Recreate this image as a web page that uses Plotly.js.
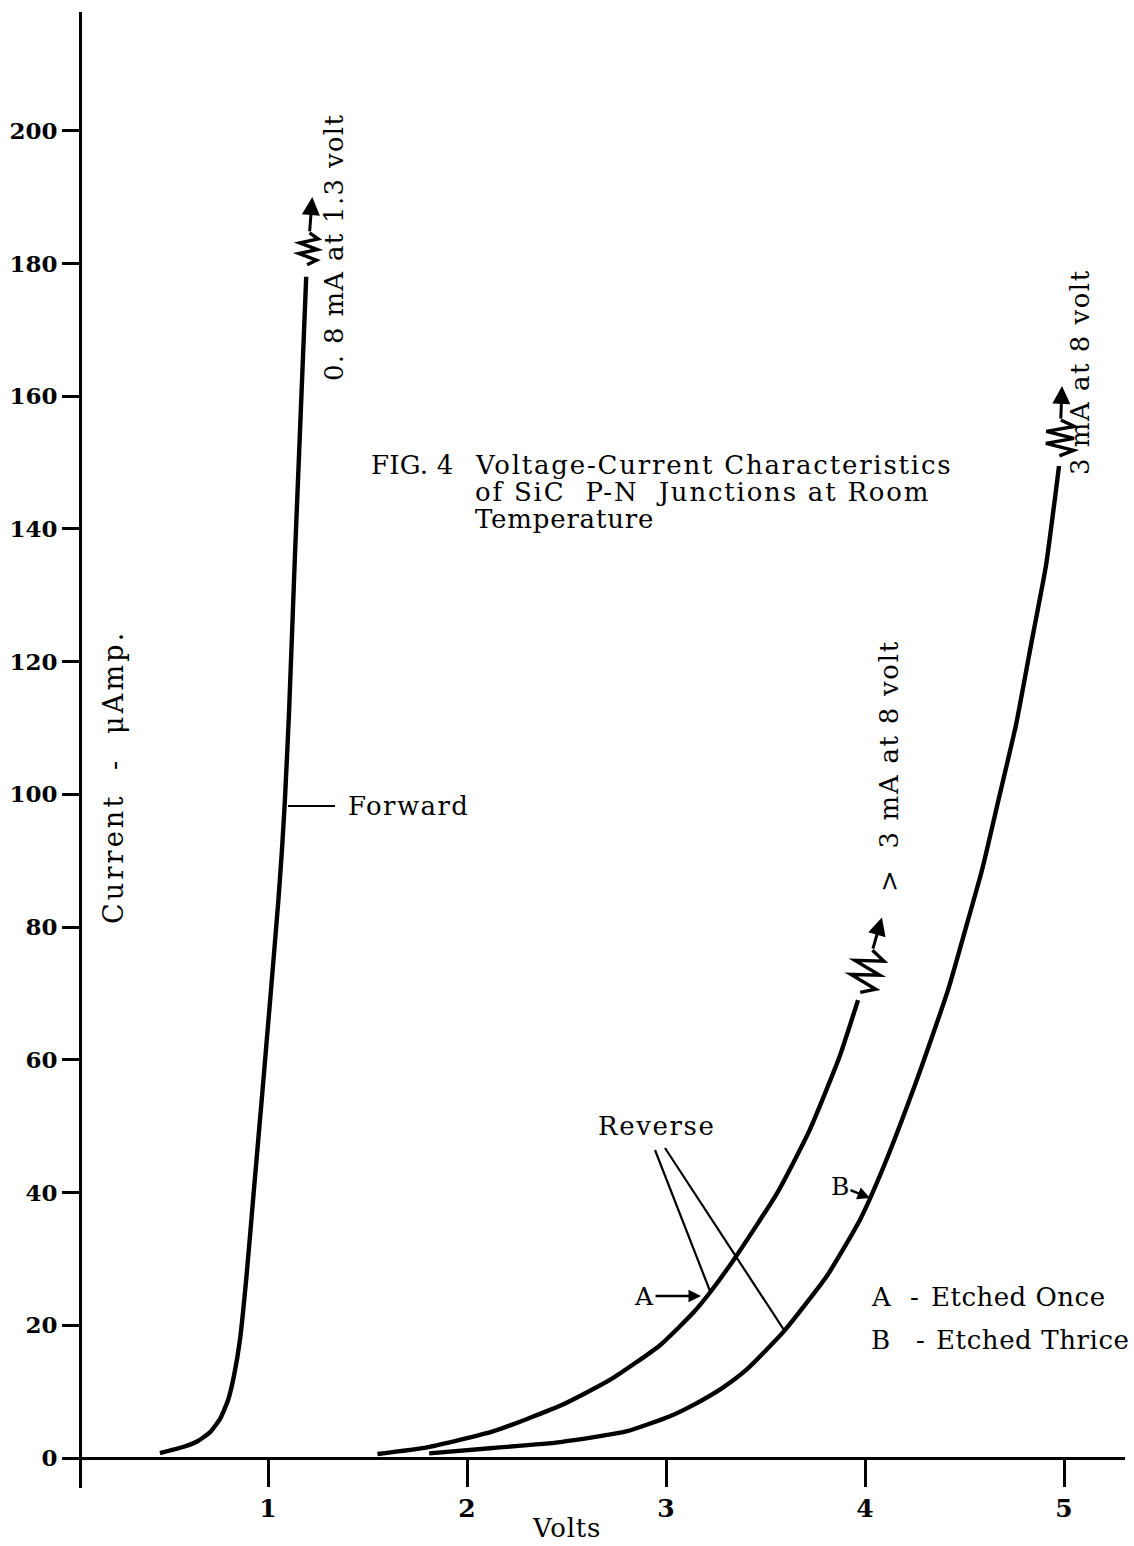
<!DOCTYPE html>
<html>
<head>
<meta charset="utf-8">
<script src="https://cdn.plot.ly/plotly-3.0.1.min.js"></script>
<style>html,body{margin:0;padding:0;background:#fff;}#chart{width:1134px;height:1546px;}</style>
</head>
<body>
<div id="chart"></div>
<script>
// ---- data (Volts, microamperes) ----
const volts_forward   = [0.457, 0.573, 0.648, 0.709, 0.759, 0.799, 0.829, 0.859, 0.892, 0.926, 0.969, 1.011, 1.052, 1.070, 1.085, 1.106, 1.135, 1.160, 1.192];
const current_forward = [0.75,  1.66,  2.56,  3.9,   5.9,   8.7,   12.4,  17.8,  27.4,  39.3,  54.2,  69.1,  84.0,  91.6,  99.2,  112.6, 135.7, 154.2, 178.0];

const volts_A   = [1.55, 1.80, 2.13, 2.47, 2.72, 2.97, 3.14, 3.22, 3.35, 3.56, 3.72, 3.87, 3.965];
const current_A = [0.6,  1.6,  4.0,  7.9,  11.8, 17.0, 22.0, 24.9, 30.3, 40.0, 49.3, 60.3, 69.0];

const volts_B   = [1.81, 2.13, 2.47, 2.80, 3.02, 3.15, 3.28, 3.40, 3.59, 3.81, 3.975, 4.095, 4.251, 4.417, 4.518, 4.588, 4.671, 4.759, 4.839, 4.910, 4.975];
const current_B = [0.7,  1.5,  2.4,  4.0,  6.3,  8.2,  10.5, 13.2, 19.0, 27.5, 35.9,  44.0,  56.2,  70.5,  81.1,  88.6,  99.2,  110.5, 123.3, 134.6, 149.5];

const xTickVals = [1, 2, 3, 4, 5];
const xTickText = ['1', '2', '3', '4', '5'];
const yTickVals = [0, 20, 40, 60, 80, 100, 120, 140, 160, 180, 200];
const yTickText = ['0', '20', '40', '60', '80', '100', '120', '140', '160', '180', '200'];

// ---- layout geometry ----
const W = 1134, H = 1546;
const M = {l: 62, r: 9, t: 12, b: 58};
const xRange = [-0.0352, 5.3065];
const yRange = [-4.52, 217.9];
const plotW = W - M.l - M.r, plotH = H - M.t - M.b;
const FONT = 'DejaVu Serif';

// pixel <-> data helpers
const X = px => xRange[0] + (px - M.l) / plotW * (xRange[1] - xRange[0]);
const Y = py => yRange[1] - (py - M.t) / plotH * (yRange[1] - yRange[0]);
const PX = x => M.l + (x - xRange[0]) / (xRange[1] - xRange[0]) * plotW;
const PY = y => M.t + (yRange[1] - y) / (yRange[1] - yRange[0]) * plotH;

const yAxisPos = (80 - M.l) / plotW;
const xAxisPos = (0 - yRange[0]) / (yRange[1] - yRange[0]);

function curve(xs, ys) {
  return {x: xs, y: ys, type: 'scatter', mode: 'lines',
          line: {color: '#000', width: 4.4, shape: 'spline', smoothing: 0.5},
          hoverinfo: 'skip', showlegend: false};
}

// zigzag "break" symbol + arrow continuing past the end of a curve
const shapes = [];
const annotations = [];
function breakArrow(xs, ys, dirX, dirY, gap, len, amp, total) {
  const ex = PX(xs[xs.length - 1]), ey = PY(ys[ys.length - 1]);
  const n = Math.hypot(dirX, dirY); const ux = dirX / n, uy = dirY / n;
  const vx = -uy, vy = ux;
  const pts = [];
  const steps = 6;
  for (let i = 0; i <= steps; i++) {
    const s = gap + len * i / steps;
    const o = (i === 0 || i === steps) ? 0 : (i % 2 ? amp : -amp);
    pts.push([ex + ux * s + vx * o, ey + uy * s + vy * o]);
  }
  const d = pts.map((p, i) => (i ? 'L ' : 'M ') + X(p[0]) + ',' + Y(p[1])).join(' ');
  shapes.push({type: 'path', xref: 'x', yref: 'y', path: d, line: {color: '#000', width: 3.4}});
  const tx = ex + ux * (gap + len), ty = ey + uy * (gap + len);
  const hx = ex + ux * total, hy = ey + uy * total;
  annotations.push({x: X(hx), y: Y(hy), xref: 'x', yref: 'y', text: '', showarrow: true,
    ax: tx - hx, ay: ty - hy, arrowhead: 2, arrowsize: 1.2, arrowwidth: 3, arrowcolor: '#000', standoff: 0});
}
breakArrow(volts_forward, current_forward, 6, -79, 12, 32, 9, 80);
breakArrow(volts_A, current_A, 24, -83, 8, 44, 14, 86);
breakArrow(volts_B, current_B, 3, -80, 10, 36, 14, 80);

const NB = '\u00A0';
function sp(t, ls) { return '<span style="letter-spacing:' + ls + 'px">' + t + '</span>'; }
function txt(text, px, py, size, ls, opts) {
  annotations.push(Object.assign({x: X(px), y: Y(py), xref: 'x', yref: 'y', text: sp(text, ls), showarrow: false,
    font: {family: FONT, size: size, color: '#000'}, xanchor: 'center', yanchor: 'middle'}, opts || {}));
}
txt('0.' + NB + '8 mA at 1.3 volt', 334, 248, 26, 1.3, {textangle: -90});
txt('FIG.' + NB + '4', 369, 465, 26, 0.2, {xanchor: 'left'});
txt('Voltage-Current Characteristics', 473, 465, 26, 1.8, {xanchor: 'left'});
txt('of SiC' + NB + NB + 'P-N' + NB + NB + 'Junctions at Room', 473, 492, 26, 1.8, {xanchor: 'left'});
txt('Temperature', 473, 519, 26, 0.8, {xanchor: 'left'});
txt('Forward', 346, 806, 26, 1.4, {xanchor: 'left'});
txt('Current' + NB + NB + '-' + NB + NB + 'μAmp.', 113, 777, 27, 3.2, {textangle: -90});
txt('>' + NB + NB + '3 mA at 8 volt', 889, 766, 26, 1.7, {textangle: -90});
txt('3 mA at 8 volt', 1080, 372, 26, 1.5, {textangle: -90});
txt('Reverse', 656, 1126, 26, 1.6);
txt('A', 869, 1297, 26, 0, {xanchor: 'left'});
txt('-', 914, 1297, 26, 0);
txt('Etched Once', 929, 1297, 26, 0.5, {xanchor: 'left'});
txt('B', 869, 1340, 26, 0, {xanchor: 'left'});
txt('-', 920, 1340, 26, 0);
txt('Etched Thrice', 934, 1340, 26, 0.6, {xanchor: 'left'});

// axis title (below the plotting area, in paper coordinates)
annotations.push({x: (566 - M.l) / plotW, y: (H - M.b - 1528) / plotH, xref: 'paper', yref: 'paper',
  text: sp('Volts', 0.8), showarrow: false, xanchor: 'center', yanchor: 'middle',
  font: {family: FONT, size: 26, color: '#000'}});

// labelled arrows A -> and B ↘
annotations.push({x: X(701), y: Y(1296), xref: 'x', yref: 'y', text: 'A', showarrow: true,
  ax: -57, ay: 0, arrowhead: 2, arrowsize: 1, arrowwidth: 2.5, arrowcolor: '#000', standoff: 0,
  font: {family: FONT, size: 25, color: '#000'}});
annotations.push({x: X(870), y: Y(1198), xref: 'x', yref: 'y', text: 'B', showarrow: true,
  ax: -30, ay: -12, arrowhead: 2, arrowsize: 1, arrowwidth: 2.5, arrowcolor: '#000', standoff: 0,
  font: {family: FONT, size: 25, color: '#000'}});

// leader lines
function lead(px0, py0, px1, py1, w) {
  shapes.push({type: 'line', xref: 'x', yref: 'y', x0: X(px0), y0: Y(py0), x1: X(px1), y1: Y(py1),
    line: {color: '#000', width: w}});
}
lead(288, 806, 335, 806, 2);
lead(655, 1150, 710, 1291, 2.2);
lead(665, 1148, 784, 1330, 2.2);

const data = [curve(volts_forward, current_forward), curve(volts_A, current_A), curve(volts_B, current_B)];

const layout = {
  width: W, height: H,
  margin: M,
  paper_bgcolor: '#fff', plot_bgcolor: '#fff',
  showlegend: false,
  xaxis: {range: xRange, anchor: 'free', position: xAxisPos, showline: true, linewidth: 3, linecolor: '#000',
    ticks: 'outside', ticklen: 27, tickwidth: 3, tickcolor: '#000', tickvals: xTickVals, ticktext: xTickText,
    showgrid: false, zeroline: false, automargin: false,
    tickfont: {family: FONT, size: 25, color: '#000', weight: 'bold'}},
  yaxis: {range: yRange, anchor: 'free', position: yAxisPos, showline: true, linewidth: 3, linecolor: '#000',
    ticks: 'outside', ticklen: 17, tickwidth: 3, tickcolor: '#000', tickvals: yTickVals, ticktext: yTickText,
    showgrid: false, zeroline: false, automargin: false,
    tickfont: {family: FONT, size: 23, color: '#000', weight: 'bold'}},
  shapes: shapes,
  annotations: annotations
};

Plotly.newPlot('chart', data, layout, {staticPlot: true, displayModeBar: false});
</script>
</body>
</html>
